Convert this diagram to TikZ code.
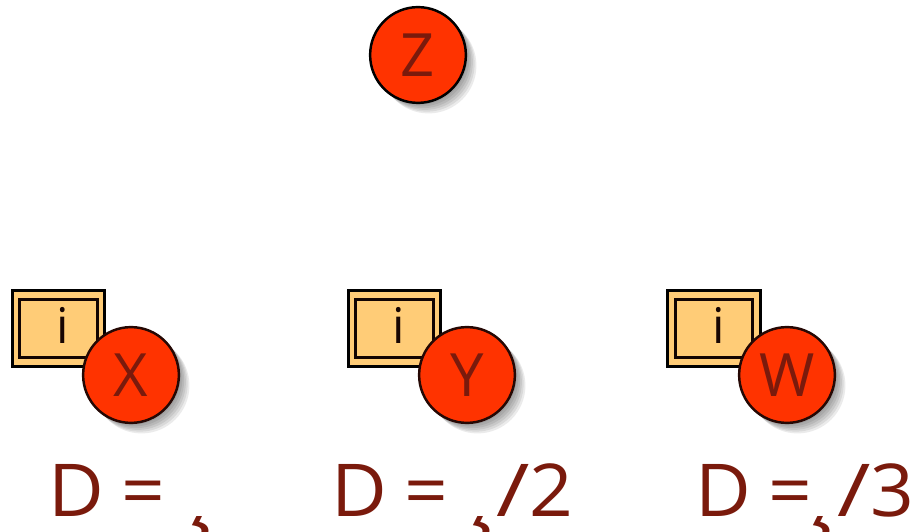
\documentclass[tikz,border=0pt]{standalone}
\usepackage{fontspec}
\setmainfont{Open Sans}
\usepackage{xcolor}
\usetikzlibrary{positioning,shadows}
\definecolor{ballRed}{HTML}{FF3300}
\definecolor{textRed}{HTML}{7A1A0C}
\definecolor{boxTan}{HTML}{FFCC77}
\newcommand{\widetext}[1]{\scalebox{1.05}[1]{#1}}
\newcommand{\wideslash}{\scalebox{1.25}[1]{/}}

\begin{document}
\begin{tikzpicture}[
    softshadow/.style={drop shadow={shadow xshift=#1, shadow yshift=-#1, opacity=.08, fill=black}},
    ball/.style={circle, draw=black!70!textRed, line width=1.4pt, fill=ballRed, minimum size=54.5pt, inner sep=0pt,
      text=textRed, font=\fontsize{34}{34}\selectfont,
      softshadow=6pt, softshadow=5pt, softshadow=4pt, softshadow=3pt, softshadow=2pt, softshadow=1pt},
    tagbox/.style={draw=black, line width=1.7pt, fill=boxTan, minimum width=52.5pt, minimum height=43.5pt, inner sep=0pt},
    framebox/.style={draw=black!85!textRed, line width=1.7pt, minimum width=44pt, minimum height=33pt, inner sep=0pt},
    tagletter/.style={inner sep=0pt, text=black!80!textRed, font=\fontsize{28}{28}\selectfont},
    valuelabel/.style={anchor=base west, inner sep=0pt, text=textRed, font=\fontsize{41.5}{41.5}\selectfont},
    hooklabel/.style={anchor=base west, inner sep=0pt, text=textRed, font=\fontsize{60}{60}\selectfont}
  ]
  \useasboundingbox (0,0) rectangle (18.36,10.62);

  % Top ball
  \node[ball, draw=black] (z) at (8.36,9.52) {Z};

  % Left group
  \node[tagbox] (tagx) at (1.17,4.05) {};
  \node[framebox] (framex) at (tagx) {};
  \node[tagletter] (ix) at (1.26,4.12) {i};
  \node[ball] (x) at (2.62,3.12) {X};
  \node[valuelabel] (dx) at (0.96,0.30) {\widetext{D\kern-1.5pt\ =}};
  \node[hooklabel] (hookx) at (3.72,0.30) {¸};

  % Middle group
  \node[tagbox] (tagy) at (7.89,4.05) {};
  \node[framebox] (framey) at (tagy) {};
  \node[tagletter] (iy) at (7.98,4.12) {i};
  \node[ball] (y) at (9.34,3.12) {Y};
  \node[valuelabel] (dy) at (6.62,0.30) {\widetext{D\kern-1.5pt\ =}};
  \node[hooklabel] (hooky) at (9.34,0.30) {¸};
  \node[valuelabel] (ry) at (9.92,0.30) {\wideslash\widetext{2}};

  % Right group
  \node[tagbox] (tagw) at (14.28,4.05) {};
  \node[framebox] (framew) at (tagw) {};
  \node[tagletter] (iw) at (14.37,4.12) {i};
  \node[ball] (w) at (15.74,3.12) {W};
  \node[valuelabel] (dw) at (13.90,0.30) {\widetext{D\kern-1.5pt\ =}};
  \node[hooklabel] (hookw) at (16.14,0.30) {¸};
  \node[valuelabel] (rw) at (16.74,0.30) {\wideslash\widetext{3}};
\end{tikzpicture}
\end{document}
